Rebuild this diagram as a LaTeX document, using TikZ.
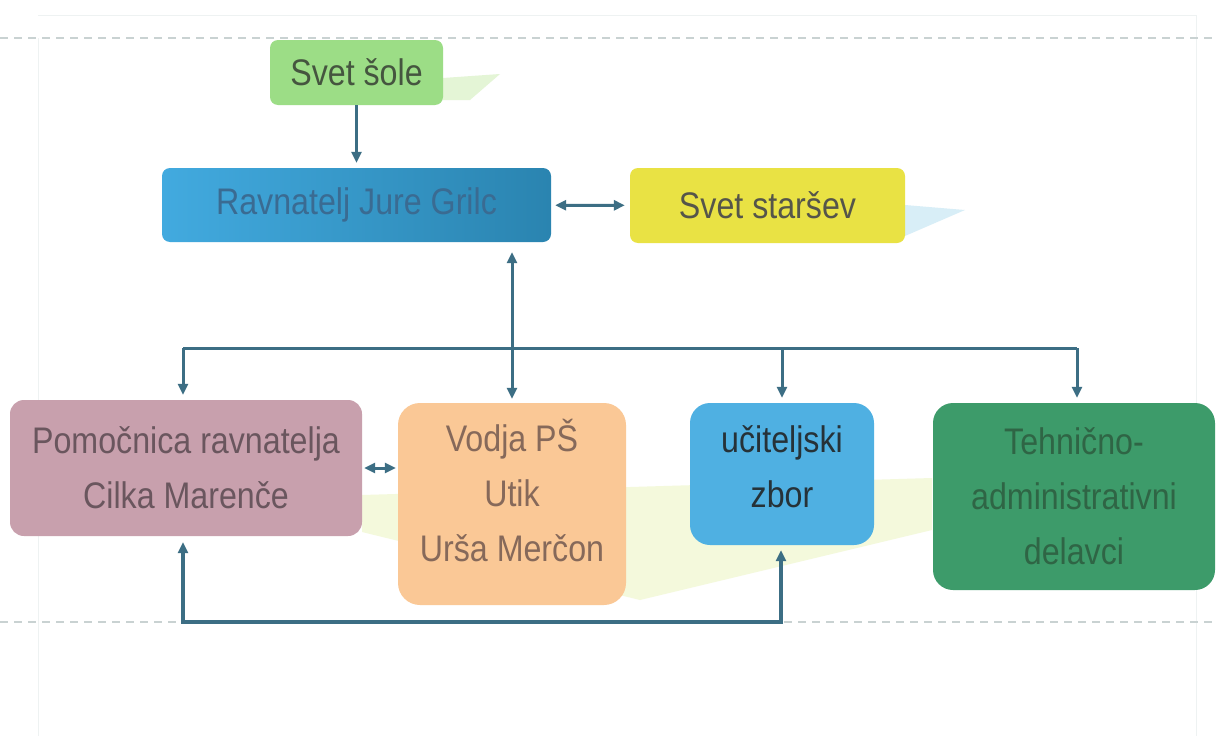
\documentclass[tikz,border=0pt]{standalone}
\usepackage{fontspec}
\setmainfont[FakeStretch=0.87]{Liberation Sans}
\usetikzlibrary{arrows.meta}
\definecolor{conn}{HTML}{3C6E84}
\definecolor{guide}{HTML}{C9D2D2}
\definecolor{faint}{HTML}{EEF2F2}
\definecolor{soleF}{HTML}{9CDD86}
\definecolor{soleT}{HTML}{45553F}
\definecolor{ravL}{HTML}{42AADF}
\definecolor{ravR}{HTML}{2A84B0}
\definecolor{ravT}{HTML}{3A6B92}
\definecolor{starF}{HTML}{E9E244}
\definecolor{starT}{HTML}{55554A}
\definecolor{pomF}{HTML}{C8A0AD}
\definecolor{pomT}{HTML}{6A565E}
\definecolor{vodF}{HTML}{FAC896}
\definecolor{vodT}{HTML}{86695A}
\definecolor{uciF}{HTML}{4FB0E2}
\definecolor{uciT}{HTML}{263238}
\definecolor{tehF}{HTML}{3D9B6A}
\definecolor{tehT}{HTML}{2F6545}
\definecolor{bandY}{HTML}{F4F9DC}
\definecolor{wedgeG}{HTML}{E4F5D6}
\definecolor{wedgeB}{HTML}{D8EEF7}
\tikzset{
  box/.style={rounded corners=8pt, inner sep=0pt, align=center,
    font=\fontsize{37}{55}\selectfont},
  conn/.style={draw=conn, line width=3pt,
    arrows={-Triangle[length=11pt,width=10pt]}},
  connboth/.style={draw=conn, line width=3pt,
    arrows={Triangle[length=11pt,width=10pt]-Triangle[length=11pt,width=10pt]}},
  connline/.style={draw=conn, line width=3pt},
  guideline/.style={draw=guide, line width=1.2pt, dash pattern=on 8pt off 6pt},
}
\begin{document}
\begin{tikzpicture}[x=1pt,y=-1pt]
\useasboundingbox (0,0) rectangle (1216,736);
\fill[white] (0,0) rectangle (1216,736);
% faint page guides
\draw[faint, line width=1pt] (38,15) -- (1196,15);
\draw[faint, line width=1pt] (38,38) -- (38,736);
\draw[faint, line width=1pt] (1196,15) -- (1196,736);
\draw[guideline] (0,38) -- (1216,38);
\draw[guideline] (0,622) -- (1216,622);
% faint background decorations
\fill[wedgeG] (443,78) -- (500,74) -- (470,100) -- (443,100) -- cycle;
\fill[wedgeB] (905,205) -- (965,210) -- (905,236) -- cycle;
\fill[bandY] (362,495) -- (932,478) -- (932,530) -- (640,600) -- (362,532) -- cycle;
% boxes
\node[box, fill=soleF, text=soleT, minimum width=173pt, minimum height=65pt] (sole) at (356.5,72.5) {Svet šole};
\node[box, left color=ravL, right color=ravR, text=ravT, minimum width=389pt, minimum height=74pt] (rav) at (356.5,205) {Ravnatelj Jure Grilc};
\node[box, fill=starF, text=starT, minimum width=275pt, minimum height=75pt] (star) at (767.5,205.5) {Svet staršev};
\node[box, fill=pomF, text=pomT, minimum width=352pt, minimum height=136pt, rounded corners=14pt] (pom) at (186,468) {Pomočnica ravnatelja\\Cilka Marenče};
\node[box, fill=vodF, text=vodT, minimum width=228pt, minimum height=202pt, rounded corners=22pt, text depth=28pt] (vod) at (512,504) {Vodja PŠ\\Utik\\Urša Merčon};
\node[box, fill=uciF, text=uciT, minimum width=184pt, minimum height=142pt, rounded corners=20pt, text depth=14pt] (uci) at (782,474) {učiteljski\\zbor};
\node[box, fill=tehF, text=tehT, minimum width=282pt, minimum height=187pt, rounded corners=20pt] (teh) at (1074,496.5) {Tehnično-\\administrativni\\delavci};
% connectors
\draw[conn, shorten >=5pt] (sole) -- (rav);
\draw[connboth, shorten <=4pt, shorten >=5pt] (rav) -- (star);
\draw[connboth, shorten <=10pt, shorten >=4pt] (rav.south -| vod.north) -- (vod.north);
\coordinate (busL) at (183,348);
\coordinate (busR) at (1077,348);
\draw[connline] (busL) -- (busR);
\draw[conn, shorten >=5pt] (busL) -- (busL |- pom.north);
\draw[conn, shorten >=5pt] (uci.north |- busL) -- (uci.north);
\draw[conn, shorten >=5pt] (busR) -- (busR |- teh.north);
\draw[connboth, shorten <=2pt, shorten >=2pt] (pom.east) -- (pom.east -| vod.west);
\coordinate (botL) at (183,622);
\coordinate (botR) at (781,622);
\draw[connboth, line width=3.5pt, shorten <=6pt, shorten >=5pt] (botL |- pom.south) -- (botL) -- (botR) -- (botR |- uci.south);
\end{tikzpicture}
\end{document}
